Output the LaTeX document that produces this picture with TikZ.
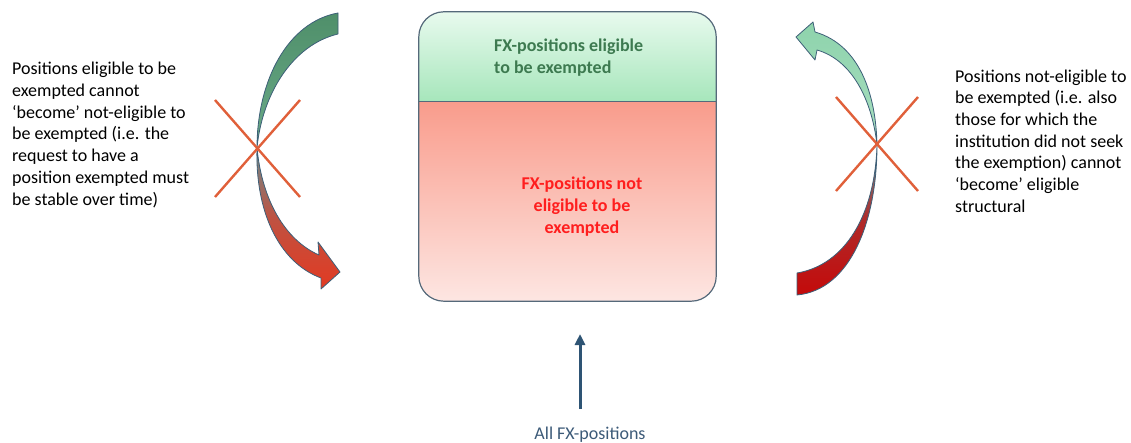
\documentclass[tikz,border=0pt]{standalone}
\usepackage{fontspec}
\setmainfont{Carlito}
\usetikzlibrary{arrows.meta,calc}
\definecolor{boxborder}{HTML}{55697A}
\definecolor{gtop}{HTML}{E8FAEE}
\definecolor{gbot}{HTML}{A6E6BB}
\definecolor{rtop}{HTML}{F99C8C}
\definecolor{rbot}{HTML}{FDE6E2}
\definecolor{gtext}{HTML}{3D7A50}
\definecolor{rtext}{HTML}{FF1E1E}
\definecolor{xcol}{HTML}{E0603A}
\definecolor{arrblue}{HTML}{2E5474}
\definecolor{lbltext}{HTML}{3C5A78}
\definecolor{outl}{HTML}{3D5F78}
\definecolor{lgreen}{HTML}{4F8F6A}
\definecolor{lgreen2}{HTML}{6AAA88}
\definecolor{rgreen}{HTML}{8ED3AC}
\definecolor{rgreen2}{HTML}{A8DFC0}
\definecolor{lred}{HTML}{E23A22}
\definecolor{rred}{HTML}{C40A0A}
\definecolor{midgray}{HTML}{6E8A8A}
\tikzset{
  body/.style={font=\fontsize{18}{21.7}\selectfont, align=left, inner sep=0pt},
  xline/.style={draw=xcol, line width=2.4pt},
  arrowout/.style={draw=outl, line width=0.8pt, line join=round},
}
\begin{document}
\begin{tikzpicture}[x=1pt,y=-1pt]
\useasboundingbox (0,0) rectangle (1131,443);
% main box
\node[minimum width=297pt, minimum height=289pt, inner sep=0pt] (box) at (567.5,156.5) {};
\begin{scope}
\clip[rounded corners=25pt] (box.north west) rectangle (box.south east);
\shade[top color=gtop, bottom color=gbot] (419,12) rectangle (716,102);
\shade[top color=rtop, bottom color=rbot] (419,102) rectangle (716,301);
\end{scope}
\draw[boxborder, line width=1.2pt, rounded corners=25pt] (box.north west) rectangle (box.south east);
\coordinate (dl) at (419,102);
\coordinate (dr) at (716,102);
\draw[boxborder, line width=1pt] (dl) -- (dr);
\node[body, anchor=west, text=gtext, font=\fontsize{18}{21.7}\selectfont\bfseries] (green) at (494,57.5) {FX-positions eligible\\to be exempted};
\node[body, align=center, text=rtext, font=\fontsize{18}{21.7}\selectfont\bfseries] (red) at (582,206.5) {FX-positions not\\eligible to be\\exempted};
% side texts
\node[body, anchor=west] (ltext) at (12,135) {Positions eligible to be\\exempted cannot\\‘become’ not-eligible to\\be exempted (i.e. the\\request to have a\\position exempted must\\be stable over time)};
\node[body, anchor=west] (rtext) at (955,141) {Positions not-eligible to\\be exempted (i.e. also\\those for which the\\institution did not seek\\the exemption) cannot\\‘become’ eligible\\structural};
% bottom arrow
\node[font=\fontsize{18}{21}\selectfont, text=lbltext, inner sep=0pt] (all) at (590,435) {All FX-positions};
\coordinate (atip) at (580,334);
\draw[arrblue, line width=3pt, -{Triangle[width=10pt,length=11pt]}, shorten <=18pt] (all.north -| atip) -- (atip);
% left curved arrow
\shade[top color=lgreen, bottom color=lgreen2, arrowout]
 (338,13) .. controls (288,22) and (257,80) .. (257,148)
 .. controls (262,95) and (292,45) .. (338,34) -- cycle;
\shade[top color=midgray, bottom color=lred, middle color=lred!70!midgray, arrowout]
 (257,148) .. controls (262,200) and (285,240) .. (319,255)
 -- (318,242) -- (340,272) -- (321,289) -- (321,278)
 .. controls (278,262) and (255,210) .. (257,148) -- cycle;
% right curved arrow
\shade[top color=rgreen, bottom color=rgreen2, arrowout]
 (877,145) .. controls (876,95) and (860,45) .. (815,32)
 -- (813,22) -- (796,37) -- (815,60) -- (817,50)
 .. controls (852,60) and (872,100) .. (877,145) -- cycle;
\shade[top color=midgray, bottom color=rred, middle color=rred!75!midgray, arrowout]
 (877,145) .. controls (877,222) and (850,290) .. (797,295)
 -- (797,273) .. controls (845,265) and (875,215) .. (877,145) -- cycle;
% crosses
\coordinate (lxa) at (215,100); \coordinate (lxb) at (300,197);
\coordinate (lxc) at (300,100); \coordinate (lxd) at (215,197);
\draw[xline] (lxa) -- (lxb);
\draw[xline] (lxc) -- (lxd);
\coordinate (rxa) at (836,97); \coordinate (rxb) at (918,191);
\coordinate (rxc) at (918,97); \coordinate (rxd) at (836,191);
\draw[xline] (rxa) -- (rxb);
\draw[xline] (rxc) -- (rxd);
\end{tikzpicture}
\end{document}
